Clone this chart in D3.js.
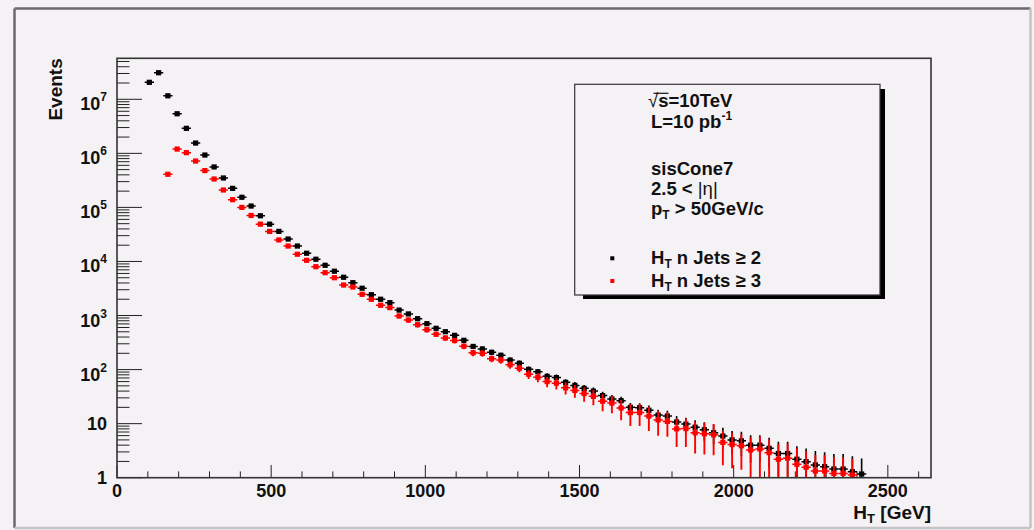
<!DOCTYPE html>
<html lang="en">
<head>
  <meta charset="UTF-8">
  <title>H_T distribution</title>
  <style>
    body {
      margin: 0;
      background-color: #f5f2f5;
    }
    svg {
      display: block;
      font-family: "Liberation Sans", Arial, sans-serif;
      font-weight: bold;
    }
  </style>
</head>
<body>
  <svg id="chart" width="1034" height="530"></svg>

  <script src="https://d3js.org/d3.v7.min.js"></script>
  <script>
    // bin centres (GeV), 30 GeV bins
    const htJets2 = [105, 135, 165, 195, 225, 255, 285, 315, 345, 375, 405, 435, 465, 495, 525, 555, 585, 615, 645, 675,
      705, 735, 765, 795, 825, 855, 885, 915, 945, 975, 1005, 1035, 1065, 1095, 1125, 1155, 1185, 1215, 1245, 1275,
      1305, 1335, 1365, 1395, 1425, 1455, 1485, 1515, 1545, 1575, 1605, 1635, 1665, 1695, 1725, 1755, 1785, 1815, 1845, 1875,
      1905, 1935, 1965, 1995, 2025, 2055, 2085, 2115, 2145, 2175, 2205, 2235, 2265, 2295, 2325, 2355, 2385, 2415];
    const nJets2 = [2.06e7, 3.1e7, 1.16e7, 5.4e6, 2.9e6, 1.55e6, 9.3e5, 5.6e5, 3.5e5, 2.25e5,
      1.54e5, 1.06e5, 7.0e4, 4.9e4, 3.6e4, 2.6e4, 1.93e4, 1.42e4, 1.1e4, 8.5e3,
      6.6e3, 5.1e3, 4.05e3, 3.2e3, 2.43e3, 2.0e3, 1.73e3, 1.26e3, 1.07e3, 873,
      706, 580, 502, 430, 348, 268, 241, 209, 184, 150,
      131, 101, 91, 75, 71, 58, 51, 45, 40, 33,
      28.6, 26.6, 20, 19.7, 17.7, 14.4, 13.8, 10.7, 9.8, 8.6,
      7.7, 6.8, 5.9, 5.0, 4.8, 4.0, 4.0, 3.5, 2.8, 2.8,
      2.2, 1.98, 1.72, 1.6, 1.45, 1.45, 1.29, 1.17];
    const errJets2 = [1.5e5, 1.8e5, 1.0e5, 6e4, 4e4, 2.5e4, 1.7e4, 1.2e4, 8e3, 6e3,
      4.5e3, 3.5e3, 2.5e3, 1.9e3, 1.5e3, 1.1e3, 900, 700, 560, 450,
      370, 300, 250, 200, 160, 140, 120, 95, 85, 70,
      60, 52, 45, 40, 34, 28, 25, 23, 21, 18,
      16, 13, 12, 10.5, 10, 8.5, 7.7, 7, 6.5, 5.7,
      5.2, 5, 4.2, 4.2, 4, 3.6, 3.5, 3.2, 3.1, 3.0,
      2.9, 2.7, 2.5, 2.3, 2.3, 2.1, 2.1, 2.0, 1.8, 1.8,
      1.6, 1.5, 1.4, 1.35, 1.3, 1.3, 1.2, 1.1];

    const htJets3 = [165, 195, 225, 255, 285, 315, 345, 375, 405, 435, 465, 495, 525, 555, 585, 615, 645, 675, 705, 735,
      765, 795, 825, 855, 885, 915, 945, 975, 1005, 1035, 1065, 1095, 1125, 1155, 1185, 1215, 1245, 1275, 1305, 1335,
      1365, 1395, 1425, 1455, 1485, 1515, 1545, 1575, 1605, 1635, 1665, 1695, 1725, 1755, 1785, 1815, 1845, 1875, 1905, 1935,
      1965, 1995, 2025, 2055, 2085, 2115, 2145, 2175, 2205, 2235, 2265, 2295, 2325, 2355, 2385];
    const nJets3 = [4.1e5, 1.2e6, 1.03e6, 7.2e5, 4.8e5, 3.35e5, 2.1e5, 1.39e5, 1.0e5, 7.1e4,
      4.9e4, 3.6e4, 2.5e4, 1.93e4, 1.36e4, 1.05e4, 8.0e3, 6.2e3, 5.0e3, 3.67e3,
      3.37e3, 2.47e3, 2.0e3, 1.55e3, 1.40e3, 980, 826, 676, 547, 450,
      384, 345, 271, 205, 200, 159, 150, 123, 106, 82,
      72, 60, 56, 46, 41, 36, 32, 26, 24, 19.5,
      16, 16, 13.8, 11.7, 11, 8.0, 8.1, 6.8, 6.5, 6.2,
      4.5, 4.1, 3.9, 3.25, 3.4, 2.9, 2.2, 2.3, 1.77, 1.56,
      1.33, 1.33, 1.2, 1.2, 1.12];
    const errJets3 = [1.2e4, 2.5e4, 2.2e4, 1.7e4, 1.3e4, 1.0e4, 7e3, 5e3, 4e3, 3e3,
      2.3e3, 1.8e3, 1.4e3, 1.1e3, 850, 700, 580, 480, 400, 320,
      290, 230, 180, 150, 135, 100, 90, 78, 60, 50,
      44, 40, 34, 28, 27, 23, 22, 19, 17, 15,
      14, 13, 13, 11.5, 11, 10.5, 10, 9, 8.5, 8,
      7, 7, 6.5, 5.7, 5.3, 4.3, 4.4, 4, 3.8, 3.6,
      2.8, 2.6, 2.5, 2.3, 2.4, 2.2, 2.0, 2.0, 1.7, 1.5,
      1.3, 1.3, 1.2, 1.2, 1.1];

    const binWidth = 30;

    // axis ticks and labels
    const xTickValues = [0, 500, 1000, 1500, 2000, 2500];
    const yTickValues = [1, 10, 1e2, 1e3, 1e4, 1e5, 1e6, 1e7];
    const yTickBase = ["1", "10", "10", "10", "10", "10", "10", "10"];
    const yTickExp = ["", "", "2", "3", "4", "5", "6", "7"];

    const bg = "#f5f2f5";
    const svg = d3.select("#chart");

    const frame = { left: 117, right: 931, top: 58.3, bottom: 477.7 };
    const x = d3.scaleLinear().domain([0, 2640]).range([frame.left, frame.right]);
    const y = d3.scaleLog().domain([1, 5.73e7]).range([frame.bottom, frame.top]);

    // canvas border (bevelled)
    svg.append("line").attr("x1", 14.5).attr("y1", 8.5).attr("x2", 1030.5).attr("y2", 8.5)
      .attr("stroke", "#6a6a6a").attr("stroke-width", 2.5);
    svg.append("line").attr("x1", 14.5).attr("y1", 8.5).attr("x2", 14.5).attr("y2", 528)
      .attr("stroke", "#6a6a6a").attr("stroke-width", 2.5);
    svg.append("line").attr("x1", 1030.5).attr("y1", 8.5).attr("x2", 1030.5).attr("y2", 528)
      .attr("stroke", "#c4c4c4").attr("stroke-width", 2.5);
    svg.append("line").attr("x1", 14.5).attr("y1", 528).attr("x2", 1030.5).attr("y2", 528)
      .attr("stroke", "#c4c4c4").attr("stroke-width", 2.5);

    svg.append("clipPath").attr("id", "clip")
      .append("rect")
      .attr("x", frame.left).attr("y", frame.top)
      .attr("width", frame.right - frame.left).attr("height", frame.bottom - frame.top);

    // ticks (inside the frame, ROOT style)
    const ticks = svg.append("g").attr("stroke", "#222").attr("stroke-width", 1);

    const xMinor = d3.range(0, 2640, 100);
    ticks.selectAll(".xt").data(xMinor).enter().append("line")
      .attr("x1", d => x(d)).attr("x2", d => x(d))
      .attr("y1", frame.bottom)
      .attr("y2", d => frame.bottom - (d % 500 === 0 ? 12.7 : 6.3));

    const yMinor = [];
    for (let n = 0; n < 8; n++) {
      for (let k = 1; k < 10; k++) {
        const v = k * Math.pow(10, n);
        if (v < y.domain()[1]) yMinor.push({ v: v, major: k === 1 });
      }
    }
    ticks.selectAll(".yt").data(yMinor).enter().append("line")
      .attr("y1", d => y(d.v)).attr("y2", d => y(d.v))
      .attr("x1", frame.left)
      .attr("x2", d => frame.left + (d.major ? 25 : 12.5));

    // data: error bars then markers
    function drawSeries(ht, vals, errs, colour, barWidth) {
      const g = svg.append("g").attr("clip-path", "url(#clip)");
      const pts = ht.map((c, i) => ({ c: c, v: vals[i], e: errs[i] }));

      g.selectAll(".hbar").data(pts).enter().append("line")
        .attr("x1", d => x(d.c - binWidth / 2)).attr("x2", d => x(d.c + binWidth / 2))
        .attr("y1", d => y(d.v)).attr("y2", d => y(d.v))
        .attr("stroke", colour).attr("stroke-width", 1.5);

      g.selectAll(".vbar").data(pts).enter().append("line")
        .attr("x1", d => x(d.c)).attr("x2", d => x(d.c))
        .attr("y1", d => y(d.v + d.e))
        .attr("y2", d => d.v - d.e > 0.5 ? y(d.v - d.e) : frame.bottom + 2)
        .attr("stroke", colour).attr("stroke-width", barWidth);

      g.selectAll(".mk").data(pts).enter().append("rect")
        .attr("x", d => x(d.c) - 2.6).attr("y", d => y(d.v) - 2.6)
        .attr("width", 5.2).attr("height", 5.2)
        .attr("fill", colour);
    }

    drawSeries(htJets2, nJets2, errJets2, "#000000", 1.6);
    drawSeries(htJets3, nJets3, errJets3, "#ff0000", 1.9);

    // frame
    svg.append("rect")
      .attr("x", frame.left).attr("y", frame.top)
      .attr("width", frame.right - frame.left).attr("height", frame.bottom - frame.top)
      .attr("fill", "none").attr("stroke", "#333").attr("stroke-width", 1.6);

    // x tick labels
    svg.selectAll(".xl").data(xTickValues).enter().append("text")
      .attr("x", d => x(d)).attr("y", 497)
      .attr("text-anchor", "middle").attr("font-size", 18).attr("fill", "#111")
      .text(d => d);

    // y tick labels, 10^n with superscripts
    yTickValues.forEach((v, i) => {
      const t = svg.append("text")
        .attr("x", 107).attr("y", y(v) + (yTickExp[i] ? 11 : 6))
        .attr("text-anchor", "end").attr("font-size", 18).attr("fill", "#111");
      t.append("tspan").text(yTickBase[i]);
      if (yTickExp[i]) {
        t.append("tspan").attr("font-size", 12).attr("dy", -9).text(yTickExp[i]);
      }
    });

    // axis titles
    const xt = svg.append("text")
      .attr("x", frame.right).attr("y", 519)
      .attr("text-anchor", "end").attr("font-size", 19).attr("fill", "#111");
    xt.append("tspan").text("H");
    xt.append("tspan").attr("font-size", 13).attr("dy", 4).text("T");
    xt.append("tspan").attr("dy", -4).text(" [GeV]");

    svg.append("text")
      .attr("transform", `translate(61.5,${frame.top}) rotate(-90)`)
      .attr("text-anchor", "end").attr("font-size", 19).attr("fill", "#111")
      .text("Events");

    // legend box with shadow
    svg.append("rect").attr("x", 583).attr("y", 89).attr("width", 302).attr("height", 210).attr("fill", "#000");
    svg.append("rect").attr("x", 574.7).attr("y", 84.3).attr("width", 305.3).attr("height", 210.7)
      .attr("fill", bg).attr("stroke", "#333").attr("stroke-width", 1.2);

    const leg = svg.append("g").attr("font-size", 18.5).attr("fill", "#111");

    const l1 = leg.append("text").attr("x", 648).attr("y", 106.7);
    l1.append("tspan").attr("font-weight", "normal").text("\u221A");
    l1.append("tspan").text("s=10TeV");
    const n1 = l1.node();
    const sx1 = n1.getEndPositionOfChar(1).x;
    const rx = n1.getStartPositionOfChar(0).x + n1.getSubStringLength(0, 1) * 0.55;
    leg.append("line").attr("x1", rx).attr("x2", sx1).attr("y1", 93.3).attr("y2", 93.3)
      .attr("stroke", "#111").attr("stroke-width", 1.2);

    const l2 = leg.append("text").attr("x", 651).attr("y", 128.3);
    l2.append("tspan").text("L=10 pb");
    l2.append("tspan").attr("font-size", 12).attr("dy", -8).text("-1");

    leg.append("text").attr("x", 651).attr("y", 175).text("sisCone7");

    const l4 = leg.append("text").attr("x", 651).attr("y", 195);
    l4.append("tspan").text("2.5 < ");
    l4.append("tspan").attr("font-weight", "normal").text("|\u03B7|");

    const l5 = leg.append("text").attr("x", 651).attr("y", 215);
    l5.append("tspan").text("p");
    l5.append("tspan").attr("font-size", 12).attr("dy", 4).text("T");
    l5.append("tspan").attr("dy", -4).text(" > 50GeV/c");

    const entries = [
      { label: " n Jets \u2265 2", colour: "#000000", y: 264 },
      { label: " n Jets \u2265 3", colour: "#ff0000", y: 286.7 }
    ];
    entries.forEach(e => {
      leg.append("rect").attr("x", 610.3).attr("y", e.y - 7.7).attr("width", 4).attr("height", 4).attr("fill", e.colour);
      const t = leg.append("text").attr("x", 651).attr("y", e.y);
      t.append("tspan").text("H");
      t.append("tspan").attr("font-size", 12).attr("dy", 4).text("T");
      t.append("tspan").attr("dy", -4).text(e.label);
    });
  </script>
</body>
</html>
